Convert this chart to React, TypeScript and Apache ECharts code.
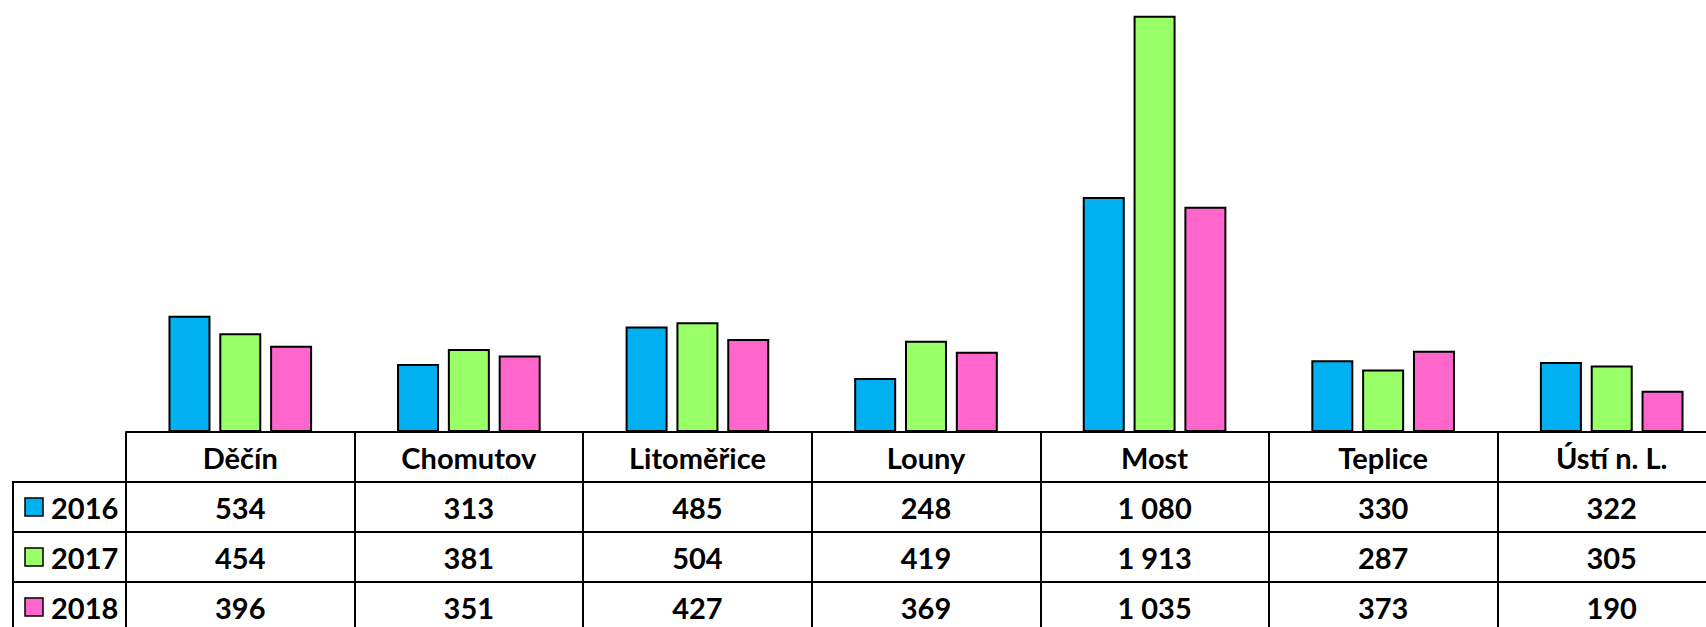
import React, { useEffect, useRef } from "react";
import * as echarts from "echarts";

const categories = ["Děčín", "Chomutov", "Litoměřice", "Louny", "Most", "Teplice", "Ústí n. L."];
const years = ["2016", "2017", "2018"];
const values2016 = [534, 313, 485, 248, 1080, 330, 322];
const values2017 = [454, 381, 504, 419, 1913, 287, 305];
const values2018 = [396, 351, 427, 369, 1035, 373, 190];
const colors = ["#00B0F0", "#99FF66", "#FF66CC"];

const W = 1706;
const H = 627;
const INNER_W = 1726;
const INNER_H = 640;
const GRID_LEFT = 126;
const AXIS_Y = 432;
const ROW_H = 50;
const TABLE_LEFT = 13;
const FONT = "Lato, 'Open Sans', sans-serif";

const fmt = (n: number) => String(n).replace(/\B(?=(\d{3})+(?!\d))/g, " ");

export default function App() {
  const ref = useRef<HTMLDivElement>(null);
  useEffect(() => {
    document.body.style.margin = "0";
    document.body.style.overflow = "hidden";
    if (!ref.current) return;
    const chart = echarts.init(ref.current, undefined, { renderer: "svg" });
    const allSeries = [values2016, values2017, values2018];
    const gridW = INNER_W - GRID_LEFT;
    const colW = gridW / categories.length;
    const graphics: any[] = [];
    const tableRight = GRID_LEFT + gridW;
    for (let r = 1; r <= 4; r++) {
      const y = AXIS_Y + r * ROW_H;
      graphics.push({
        type: "line",
        shape: { x1: TABLE_LEFT, y1: y, x2: tableRight, y2: y },
        style: { stroke: "#000", lineWidth: 2 },
      });
    }
    graphics.push({
      type: "line",
      shape: { x1: TABLE_LEFT, y1: AXIS_Y + ROW_H - 1, x2: TABLE_LEFT, y2: AXIS_Y + 4 * ROW_H },
      style: { stroke: "#000", lineWidth: 2 },
    });
    years.forEach((yr, i) => {
      const cy = AXIS_Y + ROW_H * (i + 1) + ROW_H / 2;
      graphics.push({
        type: "rect",
        shape: { x: 25, y: cy - 9, width: 18, height: 18 },
        style: { fill: colors[i], stroke: "#000", lineWidth: 1.5 },
      });
      graphics.push({
        type: "text",
        x: 51,
        y: cy,
        style: { text: yr, font: `bold 29px ${FONT}`, fill: "#000", verticalAlign: "middle", align: "left" },
      });
      allSeries[i].forEach((v, j) => {
        graphics.push({
          type: "text",
          x: GRID_LEFT + colW * (j + 0.5),
          y: cy,
          style: { text: fmt(v), font: `bold 29px ${FONT}`, fill: "#000", verticalAlign: "middle", align: "center" },
        });
      });
    });

    chart.setOption({
      animation: false,
      grid: { left: GRID_LEFT, right: 0, top: 0, bottom: INNER_H - AXIS_Y, containLabel: false },
      xAxis: {
        type: "category",
        data: categories,
        axisLine: { lineStyle: { color: "#000", width: 2 } },
        axisTick: { show: true, inside: false, length: 4 * ROW_H, lineStyle: { color: "#000", width: 2 } },
        axisLabel: {
          color: "#000",
          fontFamily: FONT,
          fontWeight: "bold",
          fontSize: 29,
          lineHeight: 30,
          margin: 10,
          interval: 0,
        },
      },
      yAxis: { type: "value", min: 0, max: 1985, show: false, splitLine: { show: false } },
      series: years.map((yr, i) => ({
        name: yr,
        type: "bar",
        data: allSeries[i],
        barWidth: 42,
        barGap: "21%",
        itemStyle: { color: colors[i], borderColor: "#000", borderWidth: 2 },
      })),
      graphic: graphics,
    });
    return () => chart.dispose();
  }, []);
  return (
    <div style={{ width: W, height: H, overflow: "hidden" }}>
      <div ref={ref} style={{ width: INNER_W, height: INNER_H }} />
    </div>
  );
}
